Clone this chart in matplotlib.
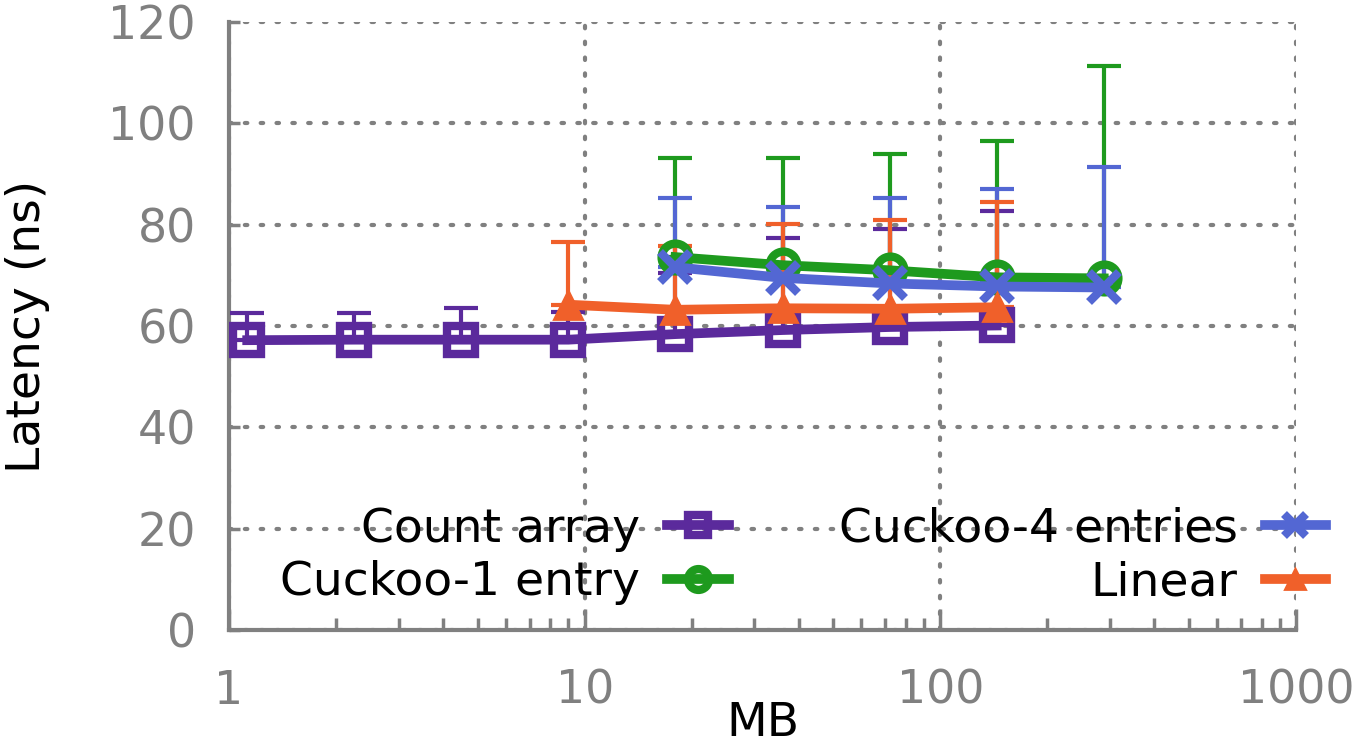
import matplotlib
matplotlib.use('Agg')
import matplotlib.pyplot as plt
import numpy as np

# sizes in MB
x_count = [1.125, 2.25, 4.5, 9, 18, 36, 72, 144]
y_count = [57.2, 57.3, 57.3, 57.3, 58.4, 59.2, 59.8, 60.1]
hi_count = [62.6, 62.6, 63.5, 62.8, 70.4, 77.4, 79.2, 82.7]

x_ck1 = [18, 36, 72, 144, 288]
y_ck1 = [73.6, 72.0, 71.0, 69.6, 69.4]
hi_ck1 = [93.1, 93.1, 93.9, 96.5, 111.3]

x_ck4 = [18, 36, 72, 144, 288]
y_ck4 = [71.6, 69.5, 68.4, 67.8, 67.6]
hi_ck4 = [85.2, 83.5, 85.2, 87.0, 91.3]

x_lin = [9, 18, 36, 72, 144]
y_lin = [64.2, 63.2, 63.5, 63.4, 63.7]
hi_lin = [76.6, 75.8, 80.1, 80.9, 84.5]

labels = ['Count array', 'Cuckoo-1 entry', 'Cuckoo-4 entries', 'Linear']
colors = ['#5b2a9c', '#1e9a1e', '#5367d3', '#f0602a']
markers = ['s', 'o', 'x', '^']

gray = '#808080'
plt.rcParams['font.family'] = 'DejaVu Sans'

fig = plt.figure(figsize=(13.64, 7.56), dpi=100)
ax = fig.add_axes([229/1364, 1-630/756, (1296-229)/1364, (630-22)/756])

series = [(x_count, y_count, hi_count), (x_ck1, y_ck1, hi_ck1),
          (x_ck4, y_ck4, hi_ck4), (x_lin, y_lin, hi_lin)]
handles = []
for (xs, ys, his), lab, c, m in zip(series, labels, colors, markers):
    ys = np.array(ys)
    up = np.array(his) - ys
    ax.errorbar(xs, ys, yerr=[np.zeros_like(up), up], fmt='none', ecolor=c,
                elinewidth=3, capsize=12, capthick=3, zorder=3)
    if m == '^':
        h, = ax.plot(xs, ys, color=c, lw=7, marker=m, ms=20, mfc=c, mec=c,
                     mew=2, zorder=4, label=lab)
    elif m == 'x':
        h, = ax.plot(xs, ys, color=c, lw=7, marker=m, ms=22, mec=c,
                     mew=6, zorder=4, label=lab)
    else:
        h, = ax.plot(xs, ys, color=c, lw=7, marker=m, ms=20, mfc='none', mec=c,
                     mew=6, zorder=4, label=lab)
    handles.append(h)

ax.set_xscale('log')
ax.set_xlim(1, 1000)
ax.set_ylim(0, 120)
ax.set_yticks(np.arange(0, 121, 20))
ax.set_xticks([1, 10, 100, 1000])
ax.set_xticklabels(['1', '10', '100', '1000'])

ax.grid(True, which='major', color=gray, linestyle=(0, (0.6, 3.2)),
        linewidth=3, dash_capstyle='round')
for s in ['top', 'right']:
    ax.spines[s].set_visible(False)
for s in ['left', 'bottom']:
    ax.spines[s].set_color(gray)
    ax.spines[s].set_linewidth(3)

ax.tick_params(axis='both', which='major', direction='in', colors=gray,
               labelsize=33, width=2.5)
ax.tick_params(axis='x', which='major', length=15, pad=28)
ax.tick_params(axis='x', which='minor', direction='in', length=9, width=2.5, colors=gray)
ax.tick_params(axis='y', which='major', length=8, pad=24)
ax.set_axisbelow(True)

ax.set_ylabel('Latency (ns)', fontsize=34, color='black', labelpad=42)
ax.set_xlabel('MB', fontsize=34, color='black', labelpad=-9)

leg = fig.legend(handles, labels,
                 ncol=2, loc='center right', bbox_to_anchor=(1326/1364, 1-556/756),
                 bbox_transform=fig.transFigure, frameon=False, fontsize=34,
                 borderpad=0, borderaxespad=0,
                 markerfirst=False, handlelength=1.3, handletextpad=0.57,
                 columnspacing=2.33, labelspacing=0.18, markerscale=0.75)
for t in leg.get_texts():
    t.set_ha('right')

fig.savefig('out.png', dpi=100)
